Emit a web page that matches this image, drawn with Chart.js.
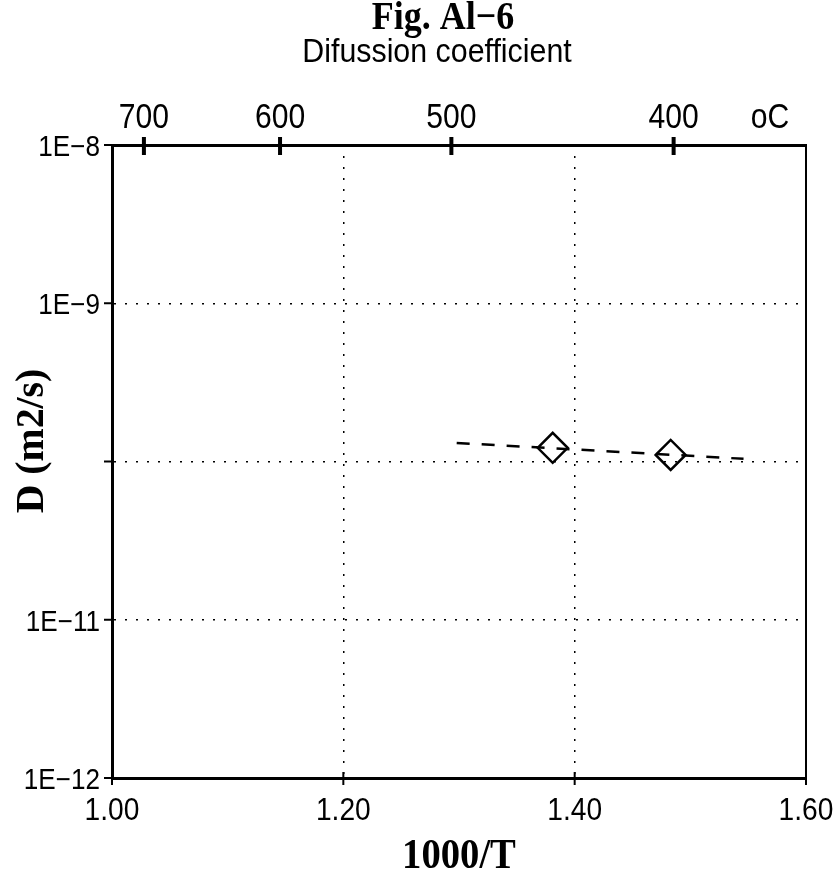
<!DOCTYPE html>
<html>
<head>
<meta charset="utf-8">
<script src="https://cdn.jsdelivr.net/npm/chart.js@4/dist/chart.umd.min.js"></script>
<style>
    html, body { margin: 0; padding: 0; background: #fff; }
    #wrap { width: 835px; height: 889px; }
</style>
</head>
<body>
<div id="wrap"><canvas id="diffChart" width="835" height="889"></canvas></div>
<script>
// data
const xTicks = [1.00, 1.20, 1.40, 1.60];
const tempTicksC = [700, 600, 500, 400];
const yDecades = [1e-12, 1e-11, 1e-10, 1e-9, 1e-8];
const yTickLabels = ['1E\u221212', '1E\u221211', '', '1E\u22129', '1E\u22128'];
const measX = [1.381, 1.483];
const measD = [1.22e-10, 1.10e-10];
const fitX = [1.298, 1.546];
const fitD = [1.31e-10, 1.04e-10];

const sans = "'Liberation Sans', Arial, sans-serif";
const serif = "'Liberation Serif', 'DejaVu Serif', serif";

function toPoints(xs, ys) {
    return xs.map((x, i) => ({ x: x, y: ys[i] }));
}

// text squeezed horizontally, the plotter font is narrow
function squeezedText(ctx, text, x, y, font, sx, align, baseline) {
    ctx.save();
    ctx.translate(x, y);
    ctx.scale(sx, 1);
    ctx.font = font;
    ctx.textAlign = align;
    ctx.textBaseline = baseline;
    ctx.fillText(text, 0, 0);
    ctx.restore();
}

// titles, tick labels, tick marks crossing the frame, right border
const frameExtras = {
    id: 'frameExtras',
    afterDraw(chart) {
        const ctx = chart.ctx;
        const area = chart.chartArea;
        const x = chart.scales.x, x2 = chart.scales.x2, y = chart.scales.y;
        ctx.save();
        ctx.strokeStyle = '#000';
        ctx.fillStyle = '#000';

        // right border
        ctx.lineWidth = 2;
        ctx.beginPath();
        ctx.moveTo(area.right, area.top);
        ctx.lineTo(area.right, area.bottom);
        ctx.stroke();

        // top temperature ticks (cross the axis)
        ctx.lineWidth = 4;
        tempTicksC.forEach(t => {
            const px = x2.getPixelForValue(1000 / (t + 273.15));
            ctx.beginPath();
            ctx.moveTo(px, area.top - 8);
            ctx.lineTo(px, area.top + 10);
            ctx.stroke();
            squeezedText(ctx, String(t), px, 128, '35px ' + sans, 0.86, 'center', 'alphabetic');
        });
        squeezedText(ctx, 'oC', area.right - 36, 128, '35px ' + sans, 0.86, 'center', 'alphabetic');

        // bottom ticks + labels
        ctx.lineWidth = 2;
        xTicks.forEach(v => {
            const px = x.getPixelForValue(v);
            ctx.beginPath();
            ctx.moveTo(px, area.bottom - 6);
            ctx.lineTo(px, area.bottom + 7);
            ctx.stroke();
            squeezedText(ctx, v.toFixed(2), px, 820, '32px ' + sans, 0.88, 'center', 'alphabetic');
        });

        // left ticks + labels
        yDecades.forEach((v, i) => {
            const py = y.getPixelForValue(v);
            ctx.beginPath();
            ctx.moveTo(area.left - 8, py);
            ctx.lineTo(area.left, py);
            ctx.stroke();
            if (yTickLabels[i]) {
                squeezedText(ctx, yTickLabels[i], area.left - 12, py + 11, '29px ' + sans, 0.9, 'right', 'alphabetic');
            }
        });

        // titles
        squeezedText(ctx, 'Fig. Al\u22126', 443, 29, 'bold 40px ' + serif, 0.9, 'center', 'alphabetic');
        squeezedText(ctx, 'Difussion coefficient', 437, 62, '33px ' + sans, 0.92, 'center', 'alphabetic');

        // x title
        squeezedText(ctx, '1000/T', (area.left + area.right) / 2, 868, 'bold 42px ' + serif, 0.92, 'center', 'alphabetic');

        // y title
        ctx.translate(32, 441);
        ctx.rotate(-Math.PI / 2);
        squeezedText(ctx, 'D (m2/s)', 0, 0, 'bold 41px ' + serif, 0.97, 'center', 'middle');
        ctx.restore();
    }
};

const ctx = document.getElementById('diffChart').getContext('2d');
new Chart(ctx, {
    type: 'scatter',
    data: {
        datasets: [
            {
                label: 'fit',
                data: toPoints(fitX, fitD),
                showLine: true,
                borderColor: '#000',
                borderWidth: 2.5,
                borderDash: [13, 12],
                pointRadius: 0,
                fill: false,
                xAxisID: 'x',
                yAxisID: 'y'
            },
            {
                label: 'D',
                data: toPoints(measX, measD),
                showLine: false,
                pointStyle: 'rectRot',
                pointRadius: 15,
                pointBorderWidth: 2.5,
                pointBorderColor: '#000',
                pointBackgroundColor: 'rgba(0,0,0,0)',
                xAxisID: 'x',
                yAxisID: 'y'
            }
        ]
    },
    options: {
        responsive: false,
        animation: false,
        layout: { padding: { top: 0, right: 29, bottom: 0, left: 0 } },
        plugins: {
            legend: { display: false },
            title: { display: false },
            tooltip: { enabled: false }
        },
        scales: {
            x: {
                type: 'linear',
                position: 'bottom',
                min: 1.0,
                max: 1.6,
                afterBuildTicks: scale => { scale.ticks = xTicks.map(v => ({ value: v })); },
                afterFit: scale => { scale.height = 111; },
                ticks: { display: false },
                grid: { color: '#000', lineWidth: 1.5, drawTicks: false },
                border: { display: true, color: '#000', width: 3, dash: [2, 9] }
            },
            x2: {
                type: 'linear',
                position: 'top',
                min: 1.0,
                max: 1.6,
                afterBuildTicks: scale => {
                    scale.ticks = tempTicksC.map(t => ({ value: 1000 / (t + 273.15) }));
                },
                afterFit: scale => { scale.height = 145; },
                ticks: { display: false },
                grid: { display: false, drawOnChartArea: false, drawTicks: false },
                border: { display: true, color: '#000', width: 3 }
            },
            y: {
                type: 'logarithmic',
                position: 'left',
                min: 1e-12,
                max: 1e-8,
                afterBuildTicks: scale => { scale.ticks = yDecades.map(v => ({ value: v })); },
                afterFit: scale => { scale.width = 112; },
                ticks: { display: false },
                grid: { color: '#000', lineWidth: 1.5, drawTicks: false },
                border: { display: true, color: '#000', width: 3, dash: [2, 9] }
            }
        }
    },
    plugins: [frameExtras]
});
</script>
</body>
</html>
